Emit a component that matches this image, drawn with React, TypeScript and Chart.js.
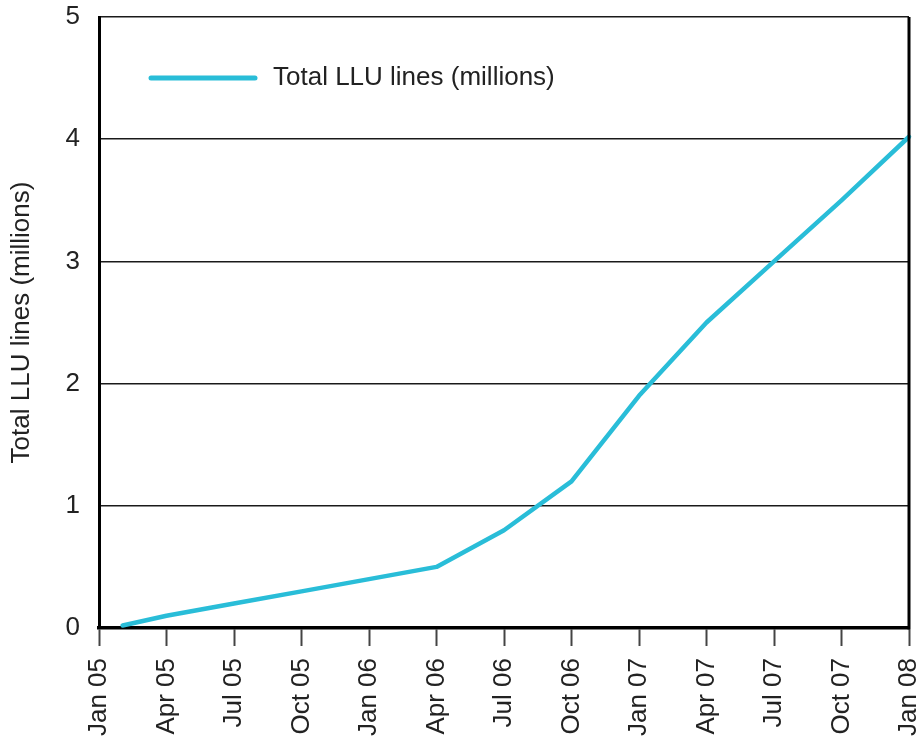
import React, { useEffect, useRef } from "react";
import { Chart, registerables } from "chart.js";

Chart.register(...registerables);

// Months since Jan 05 (0 = Jan 05, 36 = Jan 08)
const months: number[] = [1.05, 3, 6, 9, 12, 15, 18, 21, 24, 27, 30, 33, 36];
const llu: number[] = [0.02, 0.1, 0.2, 0.3, 0.4, 0.5, 0.8, 1.2, 1.9, 2.5, 3.0, 3.5, 4.02];
const tickLabels: string[] = [
  "Jan 05", "Apr 05", "Jul 05", "Oct 05", "Jan 06", "Apr 06", "Jul 06",
  "Oct 06", "Jan 07", "Apr 07", "Jul 07", "Oct 07", "Jan 08",
];
const seriesLabel = "Total LLU lines (millions)";
const yTitle = "Total LLU lines (millions)";

const FONT = "'Liberation Sans', Arial, sans-serif";
const LINE_COLOR = "#29BDD8";
const TEXT_COLOR = "#222222";

const framePlugin = {
  id: "frameAndLegend",
  afterDraw(chart: any) {
    const { ctx, chartArea } = chart;
    ctx.save();
    // right border
    ctx.strokeStyle = "#000";
    ctx.lineWidth = 3;
    ctx.beginPath();
    ctx.moveTo(chartArea.right, chartArea.top);
    ctx.lineTo(chartArea.right, chartArea.bottom + 1.5);
    ctx.stroke();
    // legend inside plot
    const ly = chartArea.top + 61;
    const lx = chartArea.left + 52;
    ctx.strokeStyle = LINE_COLOR;
    ctx.lineWidth = 5;
    ctx.lineCap = "round";
    ctx.beginPath();
    ctx.moveTo(lx, ly);
    ctx.lineTo(lx + 104, ly);
    ctx.stroke();
    ctx.fillStyle = TEXT_COLOR;
    ctx.font = `26px ${FONT}`;
    ctx.textAlign = "left";
    ctx.textBaseline = "middle";
    ctx.fillText(chart.data.datasets[0].label, lx + 122, ly);
    ctx.restore();
  },
};

export default function App() {
  const ref = useRef<HTMLCanvasElement | null>(null);

  useEffect(() => {
    if (!ref.current) return;
    const chart = new Chart(ref.current, {
      type: "line",
      data: {
        datasets: [
          {
            label: seriesLabel,
            data: months.map((m, i) => ({ x: m, y: llu[i] })),
            borderColor: LINE_COLOR,
            backgroundColor: LINE_COLOR,
            borderWidth: 4.5,
            pointRadius: 0,
            tension: 0,
            clip: false as any,
            borderCapStyle: "round",
            borderJoinStyle: "round",
          },
        ],
      },
      options: {
        responsive: false,
        animation: false,
        layout: { padding: { top: 17, right: 14, left: 0, bottom: 0 } },
        plugins: {
          legend: { display: false },
          tooltip: { enabled: false },
        },
        scales: {
          x: {
            type: "linear",
            min: 0,
            max: 36,
            afterFit: (s: any) => {
              s.height = 110;
              s.paddingLeft = 0;
              s.paddingRight = 0;
            },
            ticks: {
              stepSize: 3,
              autoSkip: false,
              minRotation: 90,
              maxRotation: 90,
              padding: 12,
              color: TEXT_COLOR,
              font: { family: FONT, size: 26 },
              callback: (v: any) => tickLabels[Math.round(Number(v) / 3)] ?? "",
            },
            grid: {
              display: true,
              drawOnChartArea: false,
              drawTicks: true,
              tickLength: 18,
              tickWidth: 2,
              tickColor: "#444",
            },
            border: { display: true, color: "#000", width: 3.5 },
          },
          y: {
            min: 0,
            max: 5,
            afterFit: (s: any) => {
              s.width = 99;
              s.paddingTop = 0;
              s.paddingBottom = 0;
            },
            ticks: {
              stepSize: 1,
              padding: 19,
              color: TEXT_COLOR,
              font: { family: FONT, size: 26 },
            },
            grid: {
              color: "#1a1a1a",
              lineWidth: 1.5,
              drawTicks: false,
            },
            border: { display: true, color: "#000", width: 3 },
            title: {
              display: true,
              text: yTitle,
              color: TEXT_COLOR,
              font: { family: FONT, size: 26 },
              padding: { top: 6, bottom: 0 },
            },
          },
        },
      },
      plugins: [framePlugin],
    });
    return () => chart.destroy();
  }, []);

  return (
    <div style={{ position: "fixed", left: 0, top: 0, width: 923, height: 738, background: "#fff" }}>
      <canvas ref={ref} width={923} height={738} />
    </div>
  );
}
